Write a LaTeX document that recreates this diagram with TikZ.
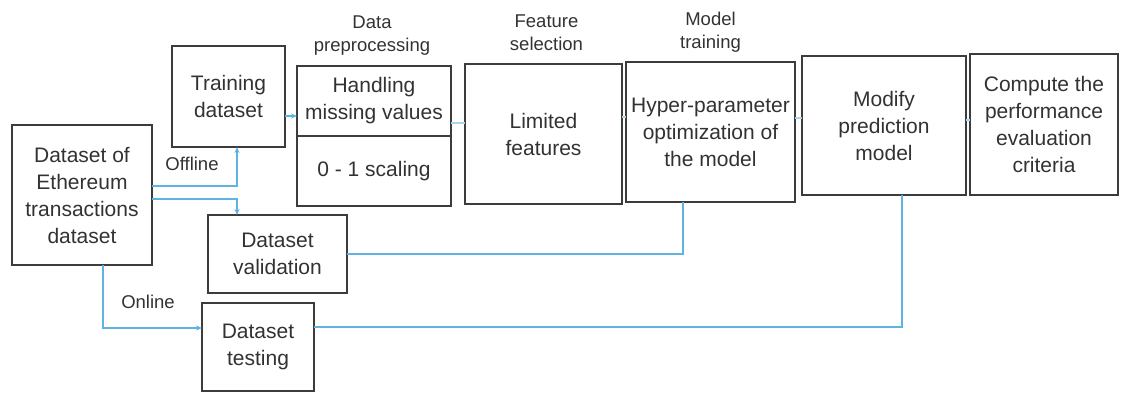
\documentclass[tikz,border=0pt]{standalone}
\usepackage{fontspec}
\setmainfont{Liberation Sans}
\usetikzlibrary{arrows.meta, positioning}

\begin{document}
\begin{tikzpicture}[
    x=1pt, y=-1pt,
    >=Stealth,
    box/.style={draw=boxLine, line width=1.3pt, inner sep=0pt, outer sep=0pt,
                align=center, text=textGray, font=\fontsize{21}{27}\selectfont},
    stage/.style={font=\fontsize{18.5}{23.5}\selectfont, text=textGray,
                  align=center, inner sep=0pt},
    flow/.style={draw=flowBlue, line width=1.6pt},
    link/.style={draw=flowBlue!55, line width=1.4pt},
    tip/.style={-{Stealth[length=6pt, width=5pt]}},
]

\definecolor{boxLine}{RGB}{60,60,60}      % dark gray frames
\definecolor{textGray}{RGB}{50,50,50}
\definecolor{flowBlue}{RGB}{95,178,225}   % light blue connectors

\useasboundingbox (0,0) rectangle (1144,392);

% ============================================================
% INPUT AND SPLIT
% ============================================================
\node[box, minimum width=140, minimum height=140] (data) at (82,195)
    {Dataset of\\Ethereum\\transactions\\dataset};

\node[box, minimum width=113, minimum height=101] (train) at (228.5,96.5)
    {Training\\dataset};
\node[box, minimum width=139, minimum height=78] (valid) at (277.5,254)
    {Dataset\\validation};
\node[box, minimum width=112, minimum height=88] (test) at (258,347)
    {Dataset\\testing};

% ============================================================
% PIPELINE
% ============================================================
\node[box, minimum width=154, minimum height=70] (prepA) at (374,101)
    {Handling\\missing values};
\node[box, minimum width=154, minimum height=70, below=0pt of prepA] (prepB)
    {0 - 1 scaling};

\node[box, minimum width=157, minimum height=140] (feat) at (543.5,134)
    {Limited\\features};
\node[box, minimum width=169, minimum height=140] (hyper) at (710.5,132)
    {Hyper-parameter\\optimization of\\the model};
\node[box, minimum width=164, minimum height=139] (modify) at (884,125.5)
    {Modify\\prediction\\model};
\node[box, minimum width=148, minimum height=141] (compute) at (1044,124.5)
    {Compute the\\performance\\evaluation\\criteria};

% stage titles
\node[stage, above=10pt of prepA, xshift=-2pt] (prepT) {Data\\preprocessing};
\node[stage, above=13pt of feat, xshift=3pt] (featT) {Feature\\selection};
\node[stage, above=9pt of hyper] (hyperT) {Model\\training};

% ============================================================
% CONNECTORS
% ============================================================
\draw[flow, tip] ([yshift=9pt]data.east) -| ([xshift=8.5pt]train.south);
\draw[flow, tip] ([yshift=-4pt]data.east) -| ([xshift=-40.5pt]valid.north);
\draw[flow, tip] ([xshift=21pt]data.south) |- ([yshift=19pt]test.west);

\node[stage] (offline) at (192,164) {Offline};
\node[stage] (online) at (148,302) {Online};

\draw[flow, tip] ([yshift=-19.5pt]train.east) -- ([yshift=-15pt]prepA.west);
\draw[link] ([yshift=-22pt]prepA.east) -- ([yshift=11pt]feat.west);
\draw[link] ([yshift=17pt]feat.east) -- ([yshift=15pt]hyper.west);
\draw[link] ([yshift=14pt]hyper.east) -- ([yshift=7.5pt]modify.west);
\draw[link] ([yshift=5.5pt]modify.east) -- ([yshift=4.5pt]compute.west);

\draw[flow] (valid.east) -| ([xshift=-27.5pt]hyper.south);
\draw[flow] ([yshift=20pt]test.east) -| ([xshift=18pt]modify.south);

\end{tikzpicture}
\end{document}
